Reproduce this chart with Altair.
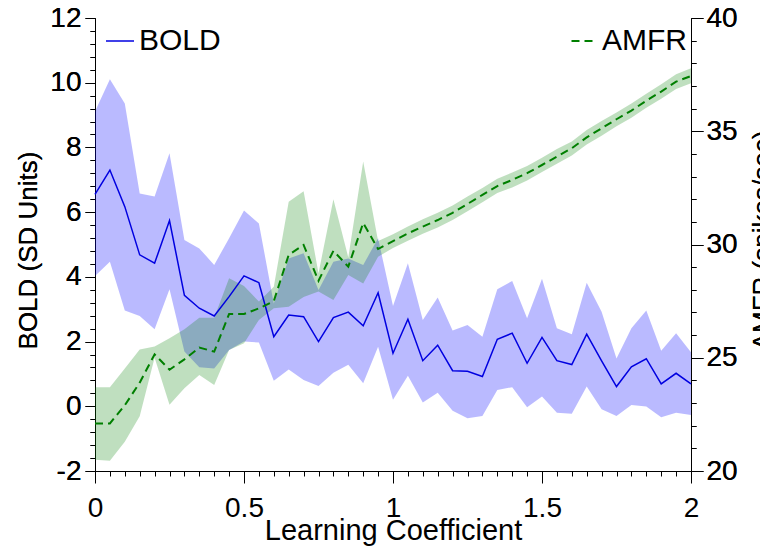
import altair as alt
import pandas as pd

coef = [0.00, 0.05, 0.10, 0.15, 0.20, 0.25, 0.30, 0.35, 0.40, 0.45,
        0.50, 0.55, 0.60, 0.65, 0.70, 0.75, 0.80, 0.85, 0.90, 0.95,
        1.00, 1.05, 1.10, 1.15, 1.20, 1.25, 1.30, 1.35, 1.40, 1.45,
        1.50, 1.55, 1.60, 1.65, 1.70, 1.75, 1.80, 1.85, 1.90, 1.95, 2.00]

bold = [6.55, 7.30, 6.17, 4.68, 4.42, 5.74, 3.43, 3.03, 2.79, 3.39,
        4.03, 3.82, 2.15, 2.82, 2.77, 2.00, 2.74, 2.91, 2.49, 3.51,
        1.64, 2.69, 1.41, 1.89, 1.10, 1.08, 0.92, 2.07, 2.26, 1.33,
        2.13, 1.41, 1.29, 2.23, 1.40, 0.61, 1.22, 1.47, 0.69, 1.02, 0.69]
bold_hi = [9.11, 10.11, 9.36, 6.58, 6.48, 7.82, 5.14, 4.88, 4.37, 5.19,
           6.05, 5.65, 3.18, 4.57, 4.73, 3.59, 4.47, 4.57, 4.37, 5.19,
           3.10, 4.42, 2.67, 3.36, 2.34, 2.51, 2.15, 3.62, 3.87, 2.72,
           3.94, 2.41, 2.23, 3.82, 2.92, 1.48, 2.41, 2.96, 1.72, 2.26, 1.67]
bold_lo = [4.03, 4.47, 2.96, 2.79, 2.38, 3.62, 1.69, 1.21, 1.17, 1.74,
           2.00, 1.97, 0.79, 1.14, 0.81, 0.63, 1.04, 1.28, 0.71, 1.84,
           0.20, 0.94, 0.12, 0.42, -0.14, -0.37, -0.30, 0.50, 0.59, -0.03,
           0.30, -0.20, -0.23, 0.61, -0.09, -0.30, 0.04, -0.01, -0.34, -0.20, -0.27]

amfr = [22.10, 22.10, 22.90, 23.90, 25.15, 24.47, 24.93, 25.45, 25.27, 26.93,
        26.93, 27.18, 27.50, 29.54, 29.98, 28.40, 29.72, 29.02, 30.95, 29.80,
        30.15, 30.49, 30.79, 31.08, 31.40, 31.79, 32.19, 32.58, 32.85, 33.15,
        33.51, 33.88, 34.25, 34.73, 35.13, 35.53, 35.91, 36.35, 36.75, 37.19, 37.44]
amfr_hi = [23.70, 23.70, 24.53, 25.36, 25.50, 25.86, 26.26, 26.77, 26.77, 28.51,
           28.17, 27.48, 28.14, 31.89, 32.35, 28.73, 32.00, 29.43, 33.66, 30.15,
           30.45, 30.80, 31.12, 31.40, 31.72, 32.12, 32.50, 32.90, 33.18, 33.47,
           33.83, 34.22, 34.55, 35.05, 35.45, 35.83, 36.22, 36.66, 37.07, 37.52, 37.78]
amfr_lo = [20.50, 20.45, 21.29, 22.42, 25.00, 22.93, 23.65, 24.24, 23.80, 25.34,
           25.64, 26.67, 27.18, 27.25, 27.68, 27.92, 27.55, 28.65, 28.28, 29.46,
           29.85, 30.17, 30.47, 30.75, 31.08, 31.47, 31.86, 32.27, 32.52, 32.83,
           33.20, 33.56, 33.93, 34.42, 34.80, 35.22, 35.60, 36.04, 36.43, 36.86, 37.12]

x_ticks = [round(i * 0.05, 2) for i in range(41)]
yl_ticks = [round(-2 + 0.4 * i, 1) for i in range(36)]
yr_ticks = list(range(20, 41))

FONT = "Liberation Sans"
LFS = 28

df = pd.DataFrame({
    "coef": coef, "bold": bold, "bold_hi": bold_hi, "bold_lo": bold_lo,
    "amfr": amfr, "amfr_hi": amfr_hi, "amfr_lo": amfr_lo,
    "sb": ["BOLD"] * len(coef), "sa": ["AMFR"] * len(coef),
})

common_axis = dict(
    grid=False, labelFont=FONT, labelFontSize=LFS, labelColor="black",
    titleFont=FONT, titleFontWeight="normal", titleColor="black",
    domainColor="black", tickColor="black", tickWidth=1, domainWidth=1,
    labelOverlap=False, labelFlush=False, labelBound=False,
)

x_axis = alt.Axis(
    values=x_ticks,
    labelExpr="abs(datum.value*2 - round(datum.value*2)) < 0.001 ? '' + datum.value : ''",
    tickSize={"condition": {"test": "abs(datum.value*2 - round(datum.value*2)) < 0.001", "value": 12}, "value": 5},
    labelPadding=11,
    titleFontSize=29,
    titleX=298, titleY=68, titleBaseline="alphabetic", titleAlign="center",
    **common_axis,
)
yl_axis = alt.Axis(
    values=yl_ticks,
    labelExpr="abs(datum.value/2 - round(datum.value/2)) < 0.001 ? '' + datum.value : ''",
    tickSize={"condition": {"test": "abs(datum.value/2 - round(datum.value/2)) < 0.001", "value": 10}, "value": 5},
    labelPadding=4, labelBaseline="middle",
    titleFontSize=26,
    titleX=-80, titleY=232, titleAngle=270, titleBaseline="top", titleAlign="center",
    **common_axis,
)
yr_axis = alt.Axis(
    orient="right",
    values=yr_ticks,
    labelExpr="datum.value % 5 == 0 ? '' + datum.value : ''",
    tickSize={"condition": {"test": "datum.value % 5 == 0", "value": 12}, "value": 5},
    labelPadding=3, labelBaseline="middle",
    titleFontSize=26,
    titleX=58, titleY=222, titleAngle=270, titleBaseline="top", titleAlign="center",
    **common_axis,
)

xs = alt.Scale(domain=[0, 2], nice=False, zero=False)
yls = alt.Scale(domain=[-2, 12], nice=False, zero=False)
yrs = alt.Scale(domain=[20, 40], nice=False, zero=False)

base = alt.Chart(df)
X = alt.X("coef:Q", scale=xs, axis=x_axis, title="Learning Coefficient")

bold_band = base.mark_area(color="#0000ff", opacity=0.27).encode(
    x=X,
    y=alt.Y("bold_lo:Q", scale=yls, axis=yl_axis, title="BOLD (SD Units)"),
    y2="bold_hi:Q",
)
bold_line = base.mark_line(strokeWidth=1.5).encode(
    x=X,
    y=alt.Y("bold:Q", scale=yls, axis=yl_axis, title="BOLD (SD Units)"),
    color=alt.Color("sb:N", scale=alt.Scale(domain=["BOLD"], range=["#0000e0"]),
                    legend=alt.Legend(orient="none", legendX=10, legendY=8, title=None,
                                      symbolType="stroke", symbolSize=784, symbolStrokeWidth=1.5,
                                      labelFont=FONT, labelFontSize=30, labelColor="black",
                                      labelOffset=4)),
)

amfr_band = base.mark_area(color="#008000", opacity=0.25).encode(
    x=X,
    y=alt.Y("amfr_lo:Q", scale=yrs, axis=yr_axis, title="AMFR (spikes/sec)"),
    y2="amfr_hi:Q",
)
amfr_line = base.mark_line(strokeWidth=2, color="#007f00").encode(
    x=X,
    y=alt.Y("amfr:Q", scale=yrs, axis=yr_axis, title="AMFR (spikes/sec)"),
    strokeDash=alt.StrokeDash("sa:N", scale=alt.Scale(domain=["AMFR"], range=[[8, 5]]),
                              legend=alt.Legend(orient="none", legendX=473, legendY=8, title=None,
                                                symbolType="stroke", symbolSize=529,
                                                symbolStrokeWidth=2, symbolStrokeColor="#007f00",
                                                labelFont=FONT, labelFontSize=30, labelColor="black",
                                                labelOffset=4)),
)

chart = alt.layer(bold_band, amfr_band, bold_line, amfr_line).resolve_scale(
    y="independent", color="independent", strokeDash="independent"
).properties(
    width=596, height=453,
    autosize=alt.AutoSizeParams(type="none"),
    padding={"left": 87, "top": 10, "right": 69, "bottom": 75},
    background="white",
).configure_view(stroke=None)

chart.save("out.html", embed_options={"renderer": "svg", "actions": False})
